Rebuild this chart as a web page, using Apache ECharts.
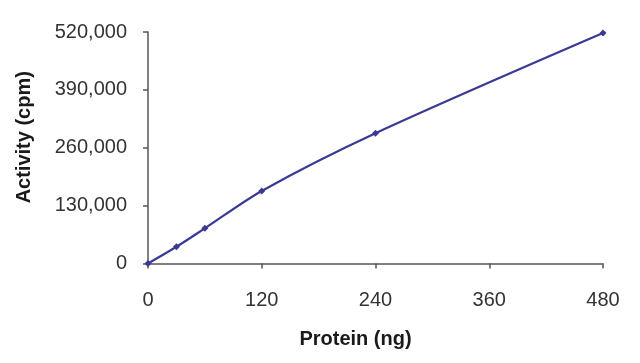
<!DOCTYPE html>
<html><head><meta charset="utf-8">
<script src="https://cdn.jsdelivr.net/npm/echarts@6/dist/echarts.min.js"></script>
<style>html,body{margin:0;padding:0;background:#fff}#c{width:640px;height:363px}</style>
</head><body><div id="c"></div>
<script>
const protein = [0, 30, 60, 120, 240, 480];
const activity = [0, 37500, 79000, 163000, 292500, 517500];
const xTicks = [0, 120, 240, 360, 480];
const yTicks = [0, 130000, 260000, 390000, 520000];

const chart = echarts.init(document.getElementById('c'), null, {renderer: 'canvas'});
const font = 'Liberation Sans, Arial, sans-serif';
chart.setOption({
  animation: false,
  grid: {left: 148, right: 37, top: 32, bottom: 99.5},
  xAxis: {
    type: 'value', min: 0, max: 480, interval: 120,
    name: 'Protein (ng)', nameLocation: 'middle', nameGap: 66,
    nameTextStyle: {fontFamily: font, fontSize: 20, fontWeight: 'bold', color: '#1a1a1a', padding: [0, 40, 0, 0]},
    axisLine: {show: true, lineStyle: {color: '#555', width: 1.5}},
    axisTick: {show: true, length: 5, lineStyle: {color: '#555', width: 1.5}},
    axisLabel: {margin: 27, fontFamily: font, fontSize: 20, color: '#333',
      formatter: v => xTicks.includes(v) ? String(v) : ''},
    splitLine: {show: false}
  },
  yAxis: {
    type: 'value', min: 0, max: 520000, interval: 130000,
    name: 'Activity (cpm)', nameLocation: 'middle', nameGap: 114,
    nameTextStyle: {fontFamily: font, fontSize: 20, fontWeight: 'bold', color: '#1a1a1a', padding: [0, 0, 0, 21]},
    axisLine: {show: true, lineStyle: {color: '#555', width: 1.5}},
    axisTick: {show: true, length: 5, lineStyle: {color: '#555', width: 1.5}},
    axisLabel: {margin: 21, fontFamily: font, fontSize: 20, color: '#333',
      formatter: v => yTicks.includes(v) ? v.toLocaleString('en-US') : ''},
    splitLine: {show: false}
  },
  series: [{
    type: 'line',
    data: protein.map((x, i) => [x, activity[i]]),
    smooth: 0.3,
    symbol: 'diamond', symbolSize: 7,
    lineStyle: {color: '#3a3a94', width: 2.2},
    itemStyle: {color: '#3a3a94'}
  }]
});
</script></body></html>
